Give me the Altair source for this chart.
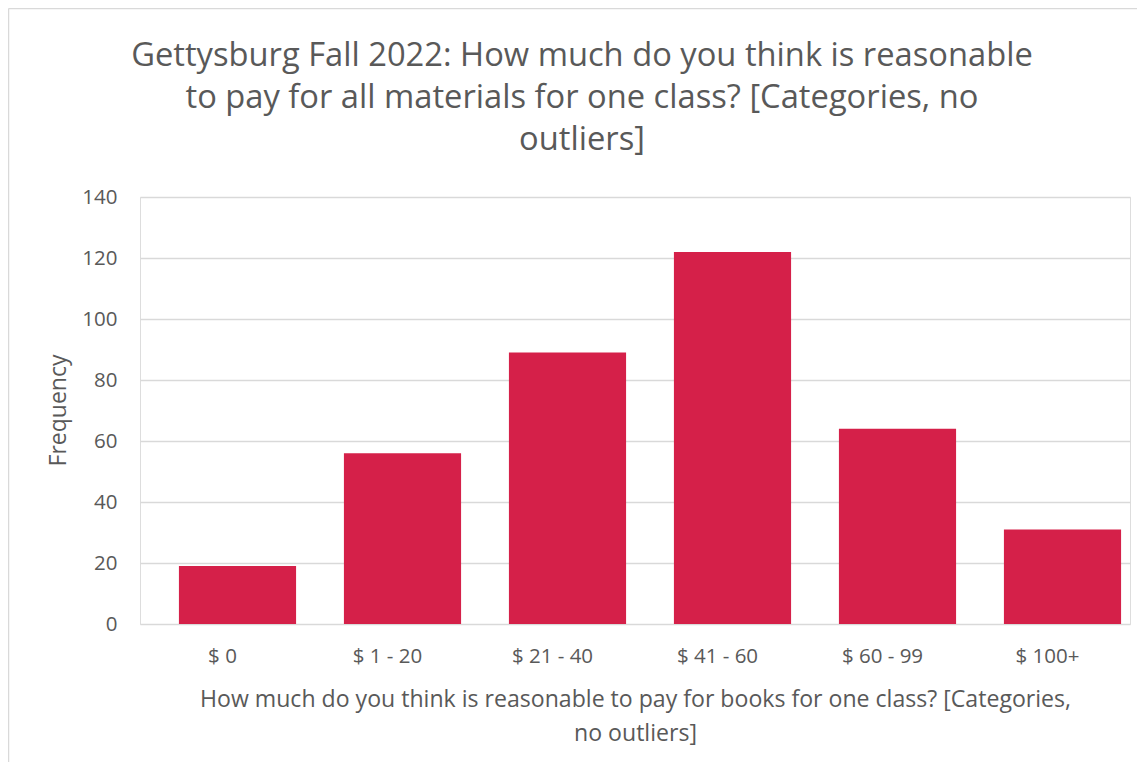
import altair as alt
import pandas as pd

categories = ["$ 0", "$ 1 - 20", "$ 21 - 40", "$ 41 - 60", "$ 60 - 99", "$ 100+"]
frequency = [19, 56, 89, 122, 64, 31]
y_ticks = [0, 20, 40, 60, 80, 100, 120, 140]

title_lines = [
    "Gettysburg Fall 2022: How much do you think is reasonable",
    "to pay for all materials for one class? [Categories, no",
    "outliers]",
]
x_title_lines = [
    "How much do you think is reasonable to pay for books for one class? [Categories,",
    "no outliers]",
]
y_title = "Frequency"

df = pd.DataFrame({"category": categories, "frequency": frequency})

FONT = "Open Sans"
GRAY = "#595959"

bars = alt.Chart(df).mark_bar(color="#D52049", xOffset=15).encode(
    x=alt.X(
        "category:N",
        sort=categories,
        scale=alt.Scale(paddingInner=0.29, paddingOuter=0.145),
        axis=alt.Axis(
            title=x_title_lines,
            labelAngle=0,
            labelFontSize=20.5,
            labelColor=GRAY,
            labelFont=FONT,
            labelPadding=22,
            domain=False,
            ticks=False,
            grid=False,
            titleFont=FONT,
            titleFontSize=23.1,
            titleFontWeight="normal",
            titleColor=GRAY,
            titleBaseline="alphabetic",
            titleY=82,
            titleLineHeight=34,
        ),
    ),
    y=alt.Y(
        "frequency:Q",
        scale=alt.Scale(domain=[0, 140], nice=False),
        axis=alt.Axis(
            title=y_title,
            values=y_ticks,
            labelFontSize=20.5,
            labelColor=GRAY,
            labelFont=FONT,
            labelPadding=23,
            domain=False,
            ticks=False,
            tickSize=0,
            grid=True,
            gridColor="#d9d9d9",
            gridWidth=1.5,
            titleFont=FONT,
            titleFontSize=23,
            titleFontWeight="normal",
            titleColor=GRAY,
            titleAngle=270,
            titleBaseline="middle",
            titleAlign="center",
            titleX=-82,
            titleY=213,
        ),
    ),
)

frame_data = alt.Data(values=[{"a": 1}])
frame_left = alt.Chart(frame_data).mark_rule(color="#d9d9d9", strokeWidth=1.5).encode(
    x=alt.value(-131.5), y=alt.value(-188.5), y2=alt.value(700)
)
frame_top = alt.Chart(frame_data).mark_rule(color="#d9d9d9", strokeWidth=1.5).encode(
    x=alt.value(-131.5), x2=alt.value(1100), y=alt.value(-188.5)
)

chart = alt.layer(frame_left, frame_top, bars).properties(
    width=990,
    height=427,
    title=alt.TitleParams(
        text=title_lines,
        font=FONT,
        fontSize=32.7,
        fontWeight="normal",
        color=GRAY,
        anchor="middle",
        frame="group",
        dx=-53,
        offset=-149,
        lineHeight=42,
    ),
    autosize=alt.AutoSizeParams(type="none"),
    padding={"left": 132, "top": 189, "right": 7, "bottom": 138},
).configure_view(stroke="transparent", strokeWidth=0).configure(background="white")

chart.save("out.html", embed_options={"renderer": "svg", "actions": False})
